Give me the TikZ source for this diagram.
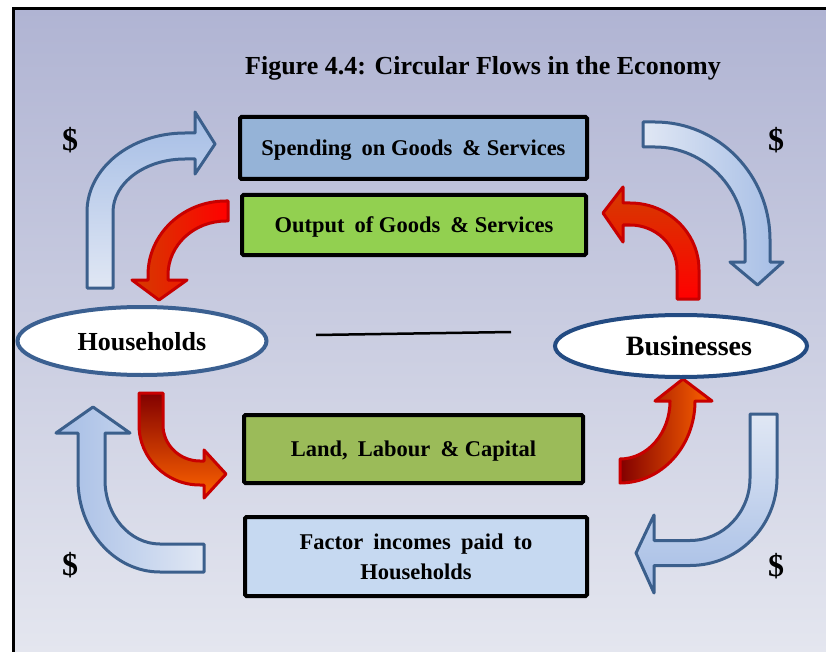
\documentclass[tikz,border=0pt]{standalone}
\usepackage{fontspec}
\setmainfont{Liberation Serif}
\usetikzlibrary{shapes.geometric}
\definecolor{bgtop}{RGB}{176,180,211}
\definecolor{bgbot}{RGB}{228,230,239}
\definecolor{arrline}{RGB}{59,95,140}
\definecolor{arrblue}{RGB}{165,189,229}
\definecolor{arrlight}{RGB}{224,231,244}
\definecolor{redline}{RGB}{200,0,0}
\definecolor{rdark}{RGB}{130,0,0}
\definecolor{rred}{RGB}{255,0,0}
\definecolor{rorange}{RGB}{255,100,0}
\definecolor{rorange2}{RGB}{255,140,0}
\definecolor{rbrown}{RGB}{212,60,0}
\definecolor{spendfill}{RGB}{149,179,215}
\definecolor{outfill}{RGB}{146,208,80}
\definecolor{landfill}{RGB}{155,187,89}
\definecolor{factfill}{RGB}{198,217,241}
\definecolor{hhline}{RGB}{59,96,145}
\definecolor{bzline}{RGB}{35,75,130}
\newcommand{\wsp}{\hspace{0.45em}}
\begin{document}
\begin{tikzpicture}[x=1pt,y=1pt,
 flowbox/.style={draw=black, line width=4pt, rounded corners=1.5pt, inner sep=0pt, align=center, text depth=0pt, font=\fontsize{22.5}{30}\selectfont\bfseries},
 sector/.style={ellipse, draw, line width=4pt, fill=white, inner sep=0pt, text depth=0pt, font=\fontsize{26}{30}\selectfont\bfseries},
 bluearrow/.style={draw=arrline, line width=3pt, line join=round},
 redarrow/.style={draw=redline, line width=3pt, line join=round},
 dollar/.style={font=\fontsize{32}{34}\selectfont\bfseries, inner sep=0pt},
 titletext/.style={font=\fontsize{26}{30}\selectfont\bfseries, inner sep=0pt},
]
\useasboundingbox (0,0) rectangle (826,-652);
\fill[white] (0,0) rectangle (826,-652);
\shade[top color=bgtop, bottom color=bgbot] (14,-9) rectangle (826,-652);
\draw[line width=3pt] (13.5,-652) -- (13.5,-8.5) -- (826,-8.5);

% blue arrows
\path[bluearrow, top color=arrblue, bottom color=arrlight]
 (87,-288) -- (87,-212) arc[start angle=180,end angle=90,x radius=98,y radius=79]
 -- (195,-133) -- (195,-112) -- (215,-144) -- (195,-174) -- (195,-159) -- (185,-159)
 arc[start angle=90,end angle=180,x radius=72,y radius=53] -- (113,-288) -- cycle;
\path[bluearrow, left color=arrlight, right color=arrblue]
 (643,-122) -- (655,-122) arc[start angle=90,end angle=0,x radius=115,y radius=118]
 -- (770,-262) -- (783,-262) -- (757.5,-285) -- (730,-262) -- (745,-262) -- (745,-240)
 arc[start angle=0,end angle=90,x radius=90,y radius=93] -- (643,-147) -- cycle;
\path[bluearrow, top color=arrlight, bottom color=arrblue]
 (750,-414) -- (777,-414) -- (777,-478) arc[start angle=0,end angle=-90,x radius=87,y radius=87.5]
 -- (654,-565.5) -- (654,-593) -- (636,-553) -- (654,-515) -- (654,-540.5) -- (690,-540.5)
 arc[start angle=-90,end angle=0,x radius=60,y radius=62.5] -- cycle;
\path[bluearrow, left color=arrblue, right color=arrlight]
 (204,-544) -- (204,-572) -- (160,-572) arc[start angle=-90,end angle=-180,x radius=82,y radius=92]
 -- (78,-433) -- (56,-433) -- (93,-407) -- (130,-433) -- (105,-433) -- (105,-480)
 arc[start angle=180,end angle=270,x radius=55,y radius=64] -- cycle;

% red arrows
\path[redarrow, left color=rbrown, middle color=rorange2, right color=rred]
 (228,-201) -- (226,-201) arc[start angle=90,end angle=180,x radius=78,y radius=74]
 -- (148,-280) -- (132,-280) -- (159,-300) -- (187,-280) -- (168,-280) -- (168,-275)
 arc[start angle=180,end angle=90,x radius=58,y radius=54] -- (228,-221) -- cycle;
\path[redarrow, top color=rbrown, middle color=rorange2, bottom color=rred]
 (677,-299) -- (699,-299) -- (699,-270) arc[start angle=0,end angle=90,x radius=69,y radius=67]
 -- (623,-203) -- (623,-187) -- (603,-213) -- (623,-242) -- (623,-225) -- (630,-225)
 arc[start angle=90,end angle=0,x radius=47,y radius=45] -- cycle;
\path[redarrow, top color=rdark, middle color=rred, bottom color=rorange]
 (139,-393) -- (163,-393) -- (163,-425) arc[start angle=180,end angle=270,x radius=37,y radius=36]
 -- (204,-461) -- (204,-450) -- (226,-474) -- (204,-498) -- (204,-485) -- (200,-485)
 arc[start angle=270,end angle=180,x radius=61,y radius=60] -- cycle;
\path[redarrow, left color=rdark, middle color=rred, right color=rorange]
 (620,-459) -- (620,-483) arc[start angle=-90,end angle=0,x radius=75,y radius=82]
 -- (712,-401) -- (683,-379) -- (655,-401) -- (670,-401)
 arc[start angle=0,end angle=-90,x radius=50,y radius=58] -- cycle;

% title and boxes
\node[titletext] (title) at (483,-68) {Figure 4.4: Circular Flows in the Economy};
\node[flowbox, fill=spendfill, minimum width=347pt, minimum height=62pt] (spend) at (413.5,-148) {Spending\wsp on Goods\wsp \& Services};
\node[flowbox, fill=outfill, minimum width=344pt, minimum height=60pt] (output) at (414,-225) {Output\wsp of Goods\wsp \& Services};
\node[flowbox, fill=landfill, minimum width=339pt, minimum height=68pt] (land) at (413.5,-449) {Land,\wsp Labour\wsp \& Capital};
\node[flowbox, fill=factfill, minimum width=342pt, minimum height=79pt] (factor) at (416,-556.5) {Factor\wsp incomes\wsp paid\wsp to\\Households};

% sectors
\node[sector, draw=hhline, minimum width=249pt, minimum height=68pt] (hh) at (142,-341) {Households};
\node[sector, draw=bzline, minimum width=252pt, minimum height=62pt, font=\fontsize{28}{30}\selectfont\bfseries] (bz) at (681,-346) {\hspace*{16pt}Businesses};
\coordinate (l1) at (316,-335);
\coordinate (l2) at (511,-332);
\draw[line width=2.5pt] (l1) -- (l2);

% dollar signs
\node[dollar] (d1) at (70,-140) {\$};
\node[dollar] (d2) at (776,-140) {\$};
\node[dollar] (d3) at (70,-565) {\$};
\node[dollar] (d4) at (776,-566) {\$};
\end{tikzpicture}
\end{document}
